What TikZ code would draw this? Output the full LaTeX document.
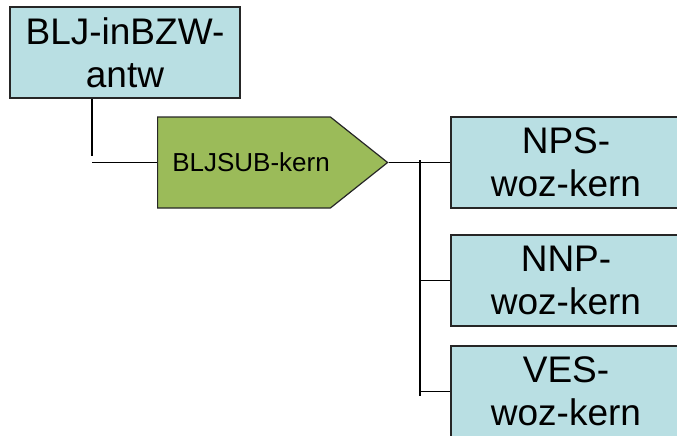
\documentclass[tikz,border=0pt]{standalone}
\usepackage{fontspec}
\setmainfont{Liberation Sans}
\usetikzlibrary{positioning, shapes.symbols}
\definecolor{boxblue}{RGB}{185,223,227}
\definecolor{boxgreen}{RGB}{155,187,89}
\begin{document}
\begin{tikzpicture}[x=1pt,y=-1pt,line width=1.2pt,
		wozbox/.style={draw=black!85,fill=boxblue,minimum width=230pt,minimum height=91pt,
			inner sep=0pt,align=center,font=\fontsize{37}{43}\selectfont},
		subsig/.style={draw=black!85,fill=boxgreen,signal,signal to=east,signal pointer angle=77,
			minimum width=230pt,minimum height=91pt,inner sep=0pt,font=\fontsize{26}{30}\selectfont}]
		\useasboundingbox (0,0) rectangle (677,436);
		
		\node[wozbox]		(antw) at (125,52.5)	{BLJ-inBZW-\\antw};
		\node[subsig,anchor=west]	(sub) at (157,162.5)	{\hspace*{14pt}BLJSUB-kern};
		
		\node[wozbox]		(nps) at (566,162.5)	{NPS-\\woz-kern};
		\node[wozbox]		(nnp) at (566,280.5)	{NNP-\\woz-kern};
		\node[wozbox]		(ves) at (566,391.5)	{VES-\\woz-kern};
		
		\coordinate (elbow) at (92,156);
		\draw (antw.south -| elbow) -- (elbow);
		\draw (elbow |- sub.west) -- (sub.west);
		
		\coordinate (trunk top) at (420,160);
		\coordinate (trunk bot) at (420,396);
		\draw (trunk top) -- (trunk bot);
		\draw (sub.east) -- (nps.west);
		\draw (trunk top |- nnp.west) -- (nnp.west);
		\draw (trunk top |- ves.west) -- (ves.west);
		
\end{tikzpicture}
\end{document}
